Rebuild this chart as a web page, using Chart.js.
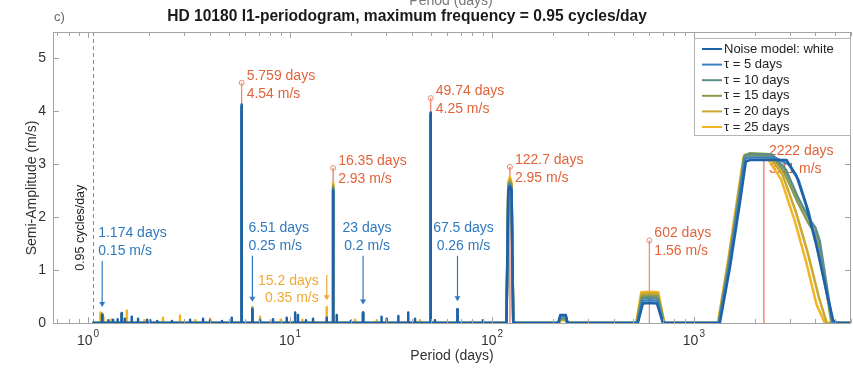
<!DOCTYPE html>
<html>
<head>
<meta charset="utf-8">
<script src="https://cdn.jsdelivr.net/npm/chart.js@4.4.1/dist/chart.umd.min.js"></script>
<style>
  html, body { margin: 0; padding: 0; background: #fff; }
  canvas { display: block; }
</style>
</head>
<body>
<canvas id="myChart" width="853" height="372"></canvas>
<script>
// periods in days, amplitudes in m/s
var maxFrequency = 0.95; // cycles/day

var seriesNames = ['Noise model: white', '\u03c4 = 5 days', '\u03c4 = 10 days', '\u03c4 = 15 days', '\u03c4 = 20 days', '\u03c4 = 25 days'];
var seriesColors = ['#1d62a8', '#3a80c2', '#5b8e88', '#8c9b4a', '#c8a82e', '#f2b425'];

// smooth parts of each periodogram (baseline and the broad peaks)
var whiteCurveP = [1.0526, 118, 120.5, 122.7, 125, 127.5, 213, 218, 232, 237, 528, 559, 602, 656, 702, 1345, 1507, 1689, 1809, 1893, 2378, 2876, 3224, 3613, 4050, 4538, 4894, 5100, 6000];
var whiteCurveA = [0, 0, 2.5, 2.58, 2.5, 0, 0, 0.15, 0.15, 0, 0, 0.37, 0.38, 0.37, 0, 0, 1.04, 2.26, 3.05, 3.08, 3.08, 3.08, 2.78, 2.2, 1.45, 0.6, 0.05, 0, 0];
var tau5CurveP = [1.0526, 118, 120.5, 122.7, 125, 127.5, 213, 218, 232, 237, 526, 557, 602, 658, 705, 1335, 1500, 1680, 1790, 1900, 2500, 2950, 3300, 3700, 4100, 4550, 4880, 5100, 6000];
var tau5CurveA = [0, 0, 2.52, 2.6, 2.52, 0, 0, 0.14, 0.14, 0, 0, 0.42, 0.43, 0.42, 0, 0, 1.1, 2.33, 3.1, 3.13, 3.13, 3.0, 2.7, 2.1, 1.4, 0.55, 0.04, 0, 0];
var tau10CurveP = [1.0526, 118, 120.5, 122.7, 125, 127.5, 214, 219, 231, 236, 524, 555, 602, 660, 708, 1330, 1495, 1675, 1785, 1900, 2450, 2850, 3300, 3750, 4000, 4200, 4550, 4850, 6000];
var tau10CurveA = [0, 0, 2.55, 2.63, 2.55, 0, 0, 0.1, 0.1, 0, 0, 0.47, 0.48, 0.47, 0, 0, 1.12, 2.38, 3.15, 3.19, 3.18, 2.9, 2.35, 1.95, 1.8, 1.55, 0.7, 0, 0];
var tau15CurveP = [1.0526, 118, 120.5, 122.7, 125, 127.5, 214, 219, 231, 236, 522, 553, 602, 662, 710, 1325, 1490, 1670, 1780, 1900, 2400, 2800, 3250, 3700, 3950, 4200, 4500, 4800, 6000];
var tau15CurveA = [0, 0, 2.58, 2.67, 2.58, 0, 0, 0.08, 0.08, 0, 0, 0.51, 0.52, 0.51, 0, 0, 1.15, 2.42, 3.17, 3.21, 3.19, 2.85, 2.3, 1.88, 1.72, 1.42, 0.7, 0, 0];
var tau20CurveP = [1.0526, 118, 120.5, 122.7, 125, 127.5, 214, 219, 231, 236, 520, 551, 602, 664, 712, 1320, 1485, 1665, 1770, 1900, 2350, 2750, 3200, 3650, 4150, 4550, 6000];
var tau20CurveA = [0, 0, 2.62, 2.71, 2.62, 0, 0, 0.06, 0.06, 0, 0, 0.55, 0.56, 0.55, 0, 0, 1.18, 2.45, 3.15, 3.18, 3.16, 2.8, 2.1, 1.35, 0.5, 0, 0];
var tau25CurveP = [1.0526, 118, 120.5, 122.7, 125, 127.5, 214, 219, 231, 236, 518, 549, 602, 666, 715, 1315, 1480, 1660, 1760, 1900, 2300, 2700, 3150, 3600, 4050, 4450, 6000];
var tau25CurveA = [0, 0, 2.66, 2.76, 2.66, 0, 0, 0.05, 0.05, 0, 0, 0.58, 0.59, 0.58, 0, 0, 1.2, 2.48, 3.12, 3.15, 3.13, 2.72, 1.95, 1.15, 0.35, 0, 0];

// narrow l1 peaks
var whiteSpikeP = [1.174, 1.26, 1.33, 1.4, 1.468, 1.52, 1.645, 1.768, 1.96, 2.03, 2.2, 2.6, 3.2, 3.71, 4.02, 4.6, 5.145, 5.759, 6.51, 7.1, 8.24, 9.63, 10.6, 10.95, 12.0, 13.0, 15.2, 16.35, 17.03, 20.0, 23.0, 28.4, 30.1, 34.4, 38.5, 41.6, 49.74, 52.2, 67.5, 90.2];
var whiteSpikeA = [0.15, 0.05, 0.06, 0.07, 0.19, 0.08, 0.12, 0.08, 0.06, 0.05, 0.04, 0.04, 0.06, 0.08, 0.05, 0.04, 0.1, 4.13, 0.25, 0.06, 0.07, 0.1, 0.2, 0.15, 0.05, 0.08, 0.1, 2.5, 0.15, 0.04, 0.2, 0.12, 0.08, 0.13, 0.2, 0.08, 3.98, 0.05, 0.26, 0.05];
var tauSpikeP = [1.174, 1.468, 5.759, 6.51, 16.35, 23.0, 49.74, 67.5];
var tau5SpikeA = [0.15, 0.18, 4.1, 0.26, 2.52, 0.2, 3.96, 0.26];
var tau10SpikeA = [0.16, 0.17, 4.05, 0.27, 2.55, 0.19, 3.94, 0.25];
var tau15SpikeA = [0.17, 0.17, 4.0, 0.28, 2.58, 0.19, 3.92, 0.25];
var tau20SpikeA = [0.18, 0.16, 3.95, 0.29, 2.62, 0.18, 3.9, 0.24];
var tau25SpikeP = [1.15, 1.19, 1.3, 1.555, 1.9, 2.35, 2.85, 3.4, 4.02, 5.759, 6.51, 7.1, 9.0, 11.5, 15.2, 16.35, 21.0, 26.9, 44.0, 49.74, 80];
var tau25SpikeA = [0.2, 0.12, 0.06, 0.23, 0.05, 0.1, 0.14, 0.05, 0.08, 3.9, 0.3, 0.12, 0.06, 0.06, 0.3, 2.65, 0.06, 0.05, 0.05, 3.85, 0.03];

// final fitted signals (red) and the small annotated peaks
var finalP = [5.759, 16.35, 49.74, 122.7, 602, 2222];
var finalA = [4.54, 2.93, 4.25, 2.95, 1.56, 3.11];
var blueNoteP = [1.174, 6.51, 23, 67.5];
var blueNoteA = [0.15, 0.25, 0.2, 0.26];
var yellowNoteP = [15.2];
var yellowNoteA = [0.35];
var yellowNoteTop = [0.3];

var redColor = '#e2633a', blueColor = '#2f79bf', yellowColor = '#f0a935';
var font = 'Liberation Sans, Arial, Helvetica, sans-serif';

function buildPoints(cp, ca, sp, sa) {
  var pts = [];
  for (var i = 0; i < cp.length; i++) pts.push({ x: cp[i], y: ca[i] });
  for (var j = 0; j < sp.length; j++) {
    pts.push({ x: sp[j], y: 0 }, { x: sp[j], y: sa[j] }, { x: sp[j], y: 0 });
  }
  pts.sort(function (a, b) { return a.x - b.x; });
  return pts;
}

var curves = [
  buildPoints(whiteCurveP, whiteCurveA, whiteSpikeP, whiteSpikeA),
  buildPoints(tau5CurveP, tau5CurveA, tauSpikeP, tau5SpikeA),
  buildPoints(tau10CurveP, tau10CurveA, tauSpikeP, tau10SpikeA),
  buildPoints(tau15CurveP, tau15CurveA, tauSpikeP, tau15SpikeA),
  buildPoints(tau20CurveP, tau20CurveA, tauSpikeP, tau20SpikeA),
  buildPoints(tau25CurveP, tau25CurveA, tau25SpikeP, tau25SpikeA)
];

var datasets = curves.map(function (pts, i) {
  return {
    label: seriesNames[i],
    data: pts,
    borderColor: seriesColors[i],
    borderWidth: 2.5,
    pointRadius: 0,
    fill: false
  };
});
datasets.push({
  label: 'final',
  data: buildPoints([], [], finalP, finalA),
  borderColor: '#ec8a70',
  borderWidth: 1,
  segment: {
    borderColor: function (c) { return (c.p0.parsed.y === 0 && c.p1.parsed.y === 0) ? 'rgba(0,0,0,0)' : '#ec8a70'; }
  },
  pointRadius: function (c) { return c.raw && c.raw.y > 0 ? 2.5 : 0; },
  pointBackgroundColor: 'rgba(255,255,255,0)',
  pointBorderColor: '#ec8a70',
  pointBorderWidth: 1,
  fill: false
});

function text(ctx, s, x, y, opts) {
  ctx.save();
  ctx.font = (opts.weight || '') + ' ' + (opts.size || 14) + 'px ' + font;
  ctx.fillStyle = opts.color || '#333';
  ctx.textAlign = opts.align || 'left';
  ctx.textBaseline = opts.baseline || 'middle';
  if (opts.rotate) {
    ctx.translate(x, y);
    ctx.rotate(opts.rotate);
    ctx.fillText(s, 0, 0);
  } else {
    ctx.fillText(s, x, y);
  }
  ctx.restore();
}

function arrow(ctx, x, y0, y1, color) {
  ctx.save();
  ctx.strokeStyle = color;
  ctx.fillStyle = color;
  ctx.lineWidth = 1.2;
  ctx.beginPath();
  ctx.moveTo(x, y0);
  ctx.lineTo(x, y1 - 4);
  ctx.stroke();
  ctx.beginPath();
  ctx.moveTo(x - 3, y1 - 5);
  ctx.lineTo(x + 3, y1 - 5);
  ctx.lineTo(x, y1);
  ctx.closePath();
  ctx.fill();
  ctx.restore();
}

// layout of the annotation texts
var blueLayout = [
  { align: 'left', dx: -4, row: 1.7 },
  { align: 'left', dx: -4, row: 1.8 },
  { align: 'center', dx: 4, row: 1.8 },
  { align: 'center', dx: 6, row: 1.8 }
];

var paperPlugin = {
  id: 'paper',
  beforeDraw: function (chart) {
    var ctx = chart.ctx;
    ctx.save();
    ctx.fillStyle = '#fff';
    ctx.fillRect(0, 0, chart.width, chart.height);
    ctx.restore();
  },
  beforeDatasetsDraw: function (chart) {
    var ctx = chart.ctx, xs = chart.scales.x, ys = chart.scales.y, a = chart.chartArea;
    // frequency limit
    var xl = Math.round(xs.getPixelForValue(1 / maxFrequency)) + 0.5;
    ctx.save();
    ctx.strokeStyle = '#8a8a8a';
    ctx.lineWidth = 1;
    ctx.setLineDash([4, 3]);
    ctx.beginPath();
    ctx.moveTo(xl, a.top);
    ctx.lineTo(xl, a.bottom);
    ctx.stroke();
    ctx.restore();
    text(ctx, maxFrequency + ' cycles/day', xl - 13, ys.getPixelForValue(1.8), { size: 12.5, color: '#222', align: 'center', rotate: -Math.PI / 2 });

    // red labels for the fitted signals
    finalP.forEach(function (p, i) {
      var x = xs.getPixelForValue(p), y = ys.getPixelForValue(finalA[i]);
      text(ctx, p + ' days', x + 5, y - 7, { color: redColor });
      text(ctx, finalA[i] + ' m/s', x + 5, y + 11, { color: redColor });
    });

    // blue notes with arrows
    blueNoteP.forEach(function (p, i) {
      var L = blueLayout[i];
      var x = xs.getPixelForValue(p);
      var y1 = ys.getPixelForValue(L.row);
      text(ctx, p + ' days', x + L.dx, y1, { color: blueColor, align: L.align });
      text(ctx, blueNoteA[i] + ' m/s', x + L.dx, y1 + 18, { color: blueColor, align: L.align });
      arrow(ctx, x, y1 + 28, ys.getPixelForValue(blueNoteA[i]) - 8, blueColor);
    });

    // yellow note
    yellowNoteP.forEach(function (p, i) {
      var x = xs.getPixelForValue(p);
      var y1 = ys.getPixelForValue(0.8);
      text(ctx, p + ' days', x - 8, y1, { color: yellowColor, align: 'right' });
      text(ctx, yellowNoteA[i] + ' m/s', x - 8, y1 + 17, { color: yellowColor, align: 'right' });
      arrow(ctx, x, y1 - 6, ys.getPixelForValue(yellowNoteTop[i]) - 7, yellowColor);
    });
  },
  afterDatasetsDraw: function (chart) {
    var ctx = chart.ctx, xs = chart.scales.x, ys = chart.scales.y, a = chart.chartArea;
    ctx.save();
    ctx.strokeStyle = '#a3a3a3';
    ctx.lineWidth = 1;
    ctx.strokeRect(Math.round(a.left) + 0.5, Math.round(a.top) + 0.5, Math.round(a.right - a.left) - 1, Math.round(a.bottom - a.top));
    ctx.beginPath();
    // log ticks top and bottom
    var k0 = Math.floor(Math.log10(xs.min)), k1 = Math.ceil(Math.log10(xs.max));
    for (var k = k0; k <= k1; k++) {
      for (var m = 1; m <= 9; m++) {
        var v = m * Math.pow(10, k);
        if (v < xs.min || v > xs.max) continue;
        var x = Math.round(xs.getPixelForValue(v)) + 0.5;
        var len = m === 1 ? 6 : 4;
        ctx.moveTo(x, a.bottom); ctx.lineTo(x, a.bottom - len);
        ctx.moveTo(x, a.top); ctx.lineTo(x, a.top + len);
      }
    }
    for (var t = 0; t <= 5; t++) {
      var y = Math.round(ys.getPixelForValue(t)) + 0.5;
      ctx.moveTo(a.left, y); ctx.lineTo(a.left + 6, y);
      ctx.moveTo(a.right, y); ctx.lineTo(a.right - 6, y);
    }
    ctx.stroke();
    ctx.restore();

    // decade labels
    ctx.save();
    for (var d = 0; d <= 3; d++) {
      var px = xs.getPixelForValue(Math.pow(10, d));
      ctx.font = '14px ' + font;
      var w1 = ctx.measureText('10').width;
      ctx.font = '10px ' + font;
      var w2 = ctx.measureText(String(d)).width;
      var x0 = px - (w1 + 1 + w2) / 2;
      text(ctx, '10', x0, 341, { size: 14, color: '#333' });
      text(ctx, String(d), x0 + w1 + 1, 334, { size: 10, color: '#333' });
    }
    ctx.restore();
  },
  afterDraw: function (chart) {
    var ctx = chart.ctx, a = chart.chartArea;
    // titles
    text(ctx, 'Period (days)', 451, 5, { size: 14, color: '#777', align: 'center', baseline: 'alphabetic' });
    text(ctx, 'c)', 54, 17, { size: 13, color: '#666' });
    text(ctx, 'HD 10180 l1-periodogram, maximum frequency = ' + maxFrequency + ' cycles/day', 407, 17, { size: 15.6, weight: 'bold', color: '#1a1a1a', align: 'center' });
    text(ctx, 'Period (days)', 452, 356, { size: 14, color: '#333', align: 'center' });
    text(ctx, 'Semi-Amplitude (m/s)', 32, 188, { size: 14, color: '#333', align: 'center', rotate: -Math.PI / 2 });

    // legend
    var lx = 694, ly = 38, lw = a.right - 694, lh = 97;
    ctx.save();
    ctx.fillStyle = '#fff';
    ctx.fillRect(lx, ly, lw, lh);
    ctx.strokeStyle = '#b5b5b5';
    ctx.lineWidth = 1;
    ctx.strokeRect(lx + 0.5, ly + 0.5, lw - 1, lh);
    seriesNames.forEach(function (name, i) {
      var y = ly + 11 + i * 15.6;
      ctx.strokeStyle = seriesColors[i];
      ctx.lineWidth = 2;
      ctx.beginPath();
      ctx.moveTo(lx + 8, y);
      ctx.lineTo(lx + 28, y);
      ctx.stroke();
      text(ctx, name, lx + 30, y, { size: 13, color: '#222' });
    });
    ctx.restore();
  }
};

var ctx = document.getElementById('myChart').getContext('2d');
var myChart = new Chart(ctx, {
  type: 'line',
  data: { datasets: datasets },
  options: {
    responsive: false,
    animation: false,
    events: [],
    layout: { padding: { top: 32, right: 2, left: 0, bottom: 0 } },
    plugins: { legend: { display: false }, tooltip: { enabled: false } },
    elements: { line: { tension: 0, borderJoinStyle: 'round' } },
    scales: {
      x: {
        type: 'logarithmic', min: 0.67, max: 6000,
        grid: { display: false, drawTicks: false },
        border: { display: false },
        ticks: { display: false },
        afterFit: function (s) { s.height = 49; }
      },
      y: {
        min: 0, max: 5.5,
        grid: { display: false, drawTicks: false },
        border: { display: false },
        ticks: {
          stepSize: 1, padding: 7, color: '#333', font: { size: 14, family: font },
          callback: function (v) { return Number.isInteger(v) ? v : ''; }
        },
        afterFit: function (s) { s.width = 53; }
      }
    }
  },
  plugins: [paperPlugin]
});
</script>
</body>
</html>
